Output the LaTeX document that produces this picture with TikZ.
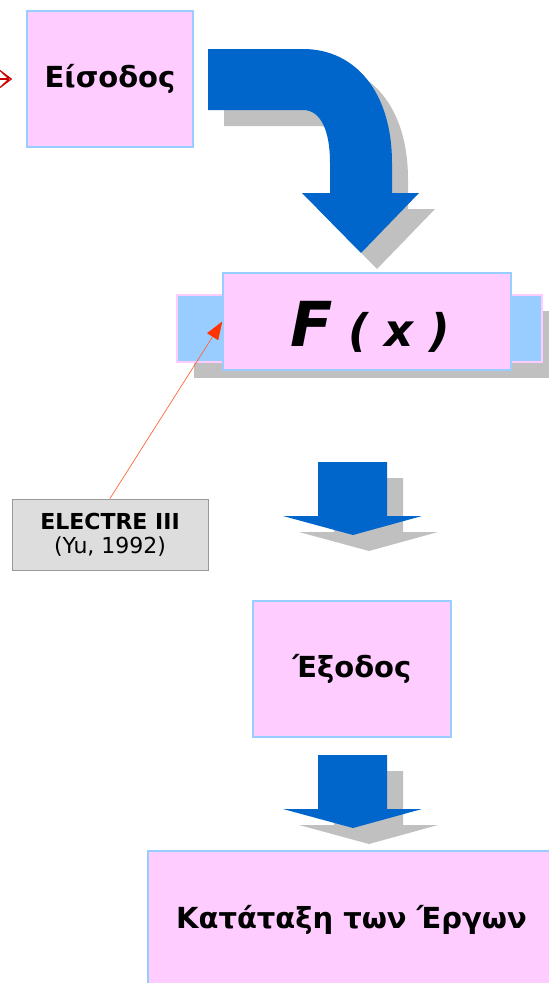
\documentclass[tikz,border=0pt]{standalone}
\usepackage{fontspec}
\setmainfont{DejaVu Sans}
\usetikzlibrary{arrows.meta, calc, shadows}
\definecolor{boxpink}{HTML}{FFCCFF}
\definecolor{boxblue}{HTML}{99CCFF}
\definecolor{flowblue}{HTML}{0066CC}
\definecolor{shadowgray}{HTML}{C0C0C0}
\definecolor{notegray}{HTML}{DDDDDD}
\definecolor{noteborder}{HTML}{999999}
\definecolor{pointred}{HTML}{FF6633}
\definecolor{tipred}{HTML}{FF3300}
\definecolor{inred}{HTML}{CC0000}

\tikzset{
  stagebox/.style={fill=boxpink, draw=boxblue, line width=1.5pt, inner sep=0pt,
    align=center, font=\bfseries\fontsize{29}{34}\selectfont},
  bendarrow/.pic={
    \fill[#1] (0,0) -- (95,0) .. controls (148,0) and (184,44) .. (184,114)
      -- (184,144) -- (211,144) -- (153,204) -- (94,144) -- (122,144) -- (122,114)
      .. controls (122,80) and (112,61) .. (95,61) -- (0,61) -- cycle;
  },
  droparrow/.pic={
    \fill[#1] (-35,0) -- (34,0) -- (34,54) -- (69,54) -- (0,73) -- (-70,54)
      -- (-35,54) -- cycle;
  }
}

\begin{document}
\begin{tikzpicture}[x=1pt, y=-1pt]
  \useasboundingbox (0,0) rectangle (549,983);
  \clip (0,0) rectangle (549,983);

  % input and the bent arrow down to F(x)
  \node[stagebox, minimum width=166pt, minimum height=136pt] (input) at (110,79) {Είσοδος};
  \coordinate (inlet) at (-30,79);
  \draw[inred, line width=1.4pt, -{Stealth[open, length=20pt, width=30pt, inset=16pt]}]
    (inlet) -- ([xshift=-14pt]input.west);
  \pic at (224,65) {bendarrow=shadowgray};
  \pic at (208,49) {bendarrow=flowblue};

  % F(x) on its blue bar
  \node[fill=boxblue, draw=boxpink, line width=1.5pt, minimum width=365pt, minimum height=67pt,
        drop shadow={shadow xshift=17pt, shadow yshift=-16pt, fill=shadowgray, opacity=1}]
    (fxback) at (359.5,328.5) {};
  \node[stagebox, minimum width=288pt, minimum height=97pt, font=\bfseries\itshape] (fx) at (367,321.5)
    {\raisebox{-25pt}[0pt][0pt]{\hspace{6pt}{\fontsize{62}{62}\selectfont F}{\fontsize{45}{45}\selectfont\ ( x )}}};

  % method note
  \node[fill=notegray, draw=noteborder, line width=1pt, minimum width=196pt, minimum height=71pt,
        align=center, font=\fontsize{22}{24}\selectfont] (electre) at (110,534.5)
    {\textbf{ELECTRE III}\\(Yu, 1992)};
  \draw[pointred, line width=0.7pt, -{Triangle[length=18pt, width=13pt, color=tipred]}]
    (electre.north) -- (fx.west);

  % output and ranking
  \pic at (369,478) {droparrow=shadowgray};
  \pic at (353,462) {droparrow=flowblue};
  \node[stagebox, minimum width=198pt, minimum height=136pt] (output) at (352,669) {Έξοδος};
  \pic at (369,771) {droparrow=shadowgray};
  \pic at (353,755) {droparrow=flowblue};
  \node[stagebox, minimum width=407pt, minimum height=138pt] (ranking) at (351.5,920) {Κατάταξη των Έργων};
\end{tikzpicture}
\end{document}
